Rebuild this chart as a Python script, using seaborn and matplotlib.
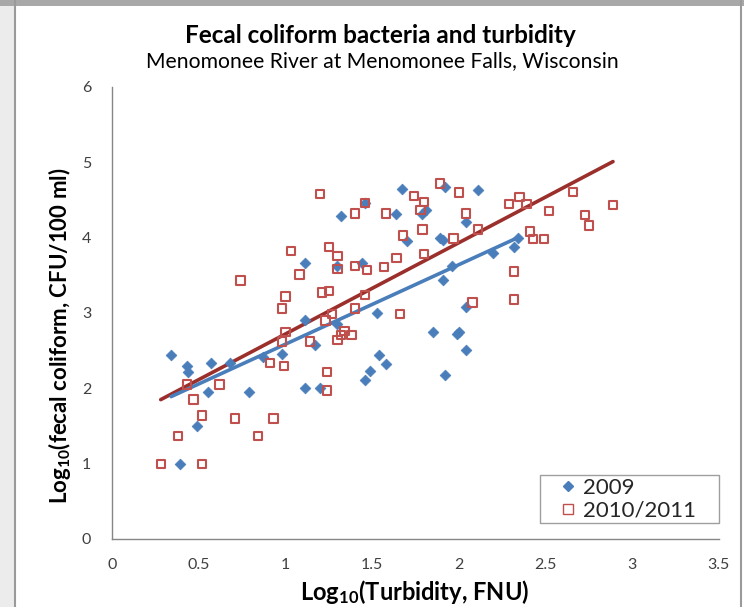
import matplotlib
matplotlib.use("Agg")
import matplotlib.pyplot as plt
import seaborn as sns
import pandas as pd
from matplotlib.lines import Line2D
from matplotlib.patches import Rectangle

# ---- data ----
x_2009 = [0.34, 0.39, 0.43, 0.44, 0.49, 0.55, 0.57, 0.68, 0.79, 0.87, 0.98,
          1.11, 1.11, 1.11, 1.17, 1.20, 1.30, 1.30, 1.32, 1.44, 1.46, 1.46,
          1.49, 1.53, 1.54, 1.58, 1.64, 1.67, 1.70, 1.79, 1.81, 1.85, 1.89,
          1.91, 1.91, 1.92, 1.92, 1.96, 2.00, 1.99, 2.04, 2.04, 2.04, 2.11,
          2.20, 2.32, 2.34]
y_2009 = [2.44, 1.00, 2.29, 2.22, 1.50, 1.95, 2.33, 2.34, 1.95, 2.41, 2.46,
          2.00, 2.91, 3.67, 2.58, 2.00, 2.86, 3.62, 4.29, 3.67, 4.46, 2.11,
          2.23, 3.00, 2.44, 2.32, 4.31, 4.65, 3.96, 4.31, 4.37, 2.75, 4.00,
          3.97, 3.44, 4.67, 2.18, 3.63, 2.75, 2.72, 4.21, 3.08, 2.51, 4.63,
          3.79, 3.88, 4.00]

x_1011 = [0.28, 0.38, 0.43, 0.47, 0.52, 0.52, 0.62, 0.71, 0.74, 0.84, 0.91,
          0.93, 0.98, 0.98, 0.99, 1.00, 1.00, 1.03, 1.08, 1.14, 1.20, 1.21,
          1.23, 1.24, 1.24, 1.25, 1.25, 1.27, 1.30, 1.30, 1.30, 1.32, 1.34,
          1.38, 1.40, 1.40, 1.40, 1.46, 1.46, 1.47, 1.57, 1.58, 1.64, 1.66,
          1.68, 1.74, 1.78, 1.79, 1.80, 1.80, 1.89, 1.97, 2.00, 2.04, 2.08,
          2.11, 2.29, 2.32, 2.32, 2.35, 2.39, 2.41, 2.43, 2.49, 2.52, 2.66,
          2.73, 2.75, 2.89]
y_1011 = [1.00, 1.37, 2.05, 1.85, 1.64, 1.00, 2.05, 1.60, 3.43, 1.37, 2.34,
          1.60, 2.62, 3.06, 2.30, 2.75, 3.22, 3.82, 3.51, 2.62, 4.58, 3.27,
          2.90, 1.97, 2.22, 3.29, 3.88, 2.99, 2.64, 3.58, 3.76, 2.71, 2.76,
          2.71, 3.06, 3.62, 4.32, 3.24, 4.46, 3.57, 3.61, 4.32, 3.73, 2.99,
          4.03, 4.55, 4.37, 4.11, 3.78, 4.47, 4.72, 3.99, 4.60, 4.32, 3.14,
          4.11, 4.45, 3.55, 3.18, 4.54, 4.45, 4.08, 3.98, 3.98, 4.35, 4.61,
          4.30, 4.16, 4.43]

# trend line end points
fit_x_2009 = [0.34, 2.34]
fit_y_2009 = [1.89, 4.00]
fit_x_1011 = [0.28, 2.89]
fit_y_1011 = [1.85, 5.01]

x_ticks = [0, 0.5, 1, 1.5, 2, 2.5, 3, 3.5]
x_tick_labels = ["0", "0.5", "1", "1.5", "2", "2.5", "3", "3.5"]
y_ticks = [0, 1, 2, 3, 4, 5, 6]
series_names = ["2009", "2010/2011"]

title = "Fecal coliform bacteria and turbidity"
subtitle = "Menomonee River at Menomonee Falls, Wisconsin"
x_label = "Log$_{10}$(Turbidity, FNU)"
y_label = "Log$_{10}$(fecal coliform, CFU/100 ml)"

# ---- styling ----
sns.set_theme(style="white")
plt.rcParams["font.family"] = ["Lato", "DejaVu Sans"]
plt.rcParams["mathtext.default"] = "regular"

BLUE = "#4A7EBB"
RED = "#C0504D"
BLUE_LINE = "#4A7EBB"
RED_LINE = "#9B2F2C"
GRID = "#868686"
TXT = "#404040"

W, H = 744, 607
fig = plt.figure(figsize=(W / 100, H / 100), dpi=100)
fig.patch.set_facecolor("white")

# window frame decorations
fig.add_artist(Rectangle((0, 0), 14 / W, 1, transform=fig.transFigure,
                         facecolor="#ececec", edgecolor="none", zorder=-5))
fig.add_artist(Line2D([15 / W, 15 / W], [0, 1], transform=fig.transFigure,
                      color="#9a9a9a", lw=1.5))
fig.add_artist(Line2D([741 / W, 741 / W], [0, 1], transform=fig.transFigure,
                      color="#9a9a9a", lw=1.5))
fig.add_artist(Rectangle((0, 1 - 6 / H), 1, 6 / H, transform=fig.transFigure,
                         facecolor="#a8a8a8", edgecolor="none"))

x0_px, x1_px, ytop_px, ybot_px = 112.2, 718.7, 87.0, 539.0
ax = fig.add_axes([x0_px / W, 1 - ybot_px / H, (x1_px - x0_px) / W,
                   (ybot_px - ytop_px) / H])

df09 = pd.DataFrame({"x": x_2009, "y": y_2009})
df10 = pd.DataFrame({"x": x_1011, "y": y_1011})

sns.lineplot(x=fit_x_1011, y=fit_y_1011, ax=ax, color=RED_LINE, lw=2.6, zorder=2)
sns.lineplot(x=fit_x_2009, y=fit_y_2009, ax=ax, color=BLUE_LINE, lw=2.6, zorder=2)

sns.scatterplot(data=df09, x="x", y="y", ax=ax, marker="D", s=30,
                color=BLUE, edgecolor=BLUE, linewidth=0.5, zorder=3)
sns.scatterplot(data=df10, x="x", y="y", ax=ax, marker="s", s=36,
                facecolor="none", edgecolor=RED, linewidth=1.5, zorder=4)

ax.set_xlim(0, 3.5)
ax.set_ylim(0, 6)
ax.set_xticks(x_ticks)
ax.set_xticklabels(x_tick_labels)
ax.set_yticks(y_ticks)
ax.set_xlabel("")
ax.set_ylabel("")

for side in ["top", "right"]:
    ax.spines[side].set_visible(False)
for side in ["left", "bottom"]:
    ax.spines[side].set_color(GRID)
    ax.spines[side].set_linewidth(1.0)
ax.tick_params(axis="both", direction="out", length=6, width=1, color=GRID,
               labelsize=11.5, labelcolor=TXT)
ax.tick_params(axis="x", pad=8)
ax.tick_params(axis="y", pad=9)

fig.text(415 / W, 1 - 592 / H, x_label, ha="center", va="center",
         fontsize=17, fontweight="bold", color="black")
fig.text(60 / W, 1 - 336 / H, y_label, ha="center", va="center",
         rotation=90, fontsize=16, fontweight="bold", color="black")

handles = [
    Line2D([], [], marker="D", ls="none", color=BLUE, markersize=5),
    Line2D([], [], marker="s", ls="none", markerfacecolor="none",
           markeredgecolor=RED, markeredgewidth=1.0, markersize=6.5),
]
lx0 = (540 - x0_px) / (x1_px - x0_px)
lx1 = (719 - x0_px) / (x1_px - x0_px)
ly0 = (ybot_px - 523.3) / (ybot_px - ytop_px)
leg = ax.legend(handles, series_names, loc="lower left",
                bbox_to_anchor=(lx0, ly0, lx1 - lx0, 0.1), mode="expand",
                fontsize=16, frameon=True, fancybox=False, edgecolor=GRID,
                borderpad=0.11, handletextpad=-0.47, handlelength=2.3,
                labelspacing=0.15, borderaxespad=0)
leg.get_frame().set_linewidth(1.0)

fig.text(380 / W, 1 - 35.7 / H, title, ha="center", va="center",
         fontsize=17.5, fontweight="bold", color="black")
fig.text(382 / W, 1 - 61 / H, subtitle, ha="center", va="center",
         fontsize=15.2, color="black")

fig.savefig("out.png", dpi=100)
